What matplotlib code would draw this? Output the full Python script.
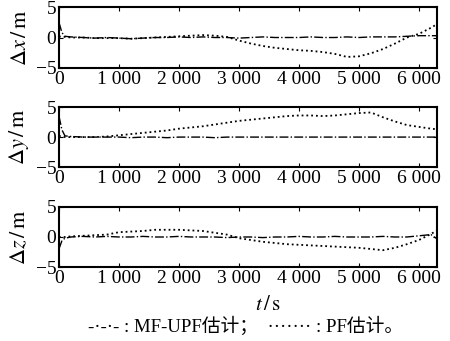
#!/usr/bin/env python
#
# Positiefouten dx, dy, dz van MF-UPF en PF schatting in functie van de tijd
#

import matplotlib
matplotlib.use('Agg')
import matplotlib.pyplot as plt
from matplotlib.ticker import FuncFormatter

################################################################################
# Data
################################################################################
t = [0, 50, 100, 200, 400, 600, 800, 1000, 1200, 1400, 1600, 1800, 2000, 2200,
     2400, 2600, 2800, 3000, 3200, 3400, 3600, 3800, 4000, 4200, 4400, 4600,
     4800, 5000, 5200, 5400, 5600, 5800, 6000, 6200, 6300]

dx_mf = [2.5, 0.8, 0.2, 0.1, 0.0, -0.1, 0.0, -0.1, -0.2, -0.1, 0.0, 0.0, 0.1,
         0.0, 0.1, 0.0, 0.0, -0.1, 0.0, 0.1, 0.0, 0.0, 0.0, 0.1, 0.0, 0.0, 0.1,
         0.0, 0.1, 0.1, 0.1, 0.2, 0.3, 0.3, 0.3]
dx_pf = [0.2, 0.1, 0.1, 0.0, 0.0, -0.1, -0.1, -0.1, -0.2, -0.1, 0.0, 0.1, 0.2,
         0.3, 0.4, 0.3, 0.1, -0.5, -1.0, -1.4, -1.7, -1.9, -2.1, -2.2, -2.4,
         -2.7, -3.2, -3.1, -2.6, -1.9, -1.0, 0.0, 0.6, 1.6, 2.2]

dy_mf = [3.5, 1.2, 0.2, 0.1, 0.0, 0.0, 0.0, 0.0, -0.1, 0.0, 0.0, -0.1, 0.0,
         0.0, 0.0, -0.1, 0.0, 0.0, 0.0, 0.0, 0.0, 0.0, 0.0, 0.0, 0.0, 0.0, 0.0,
         0.0, 0.0, 0.0, 0.0, 0.0, 0.0, 0.0, 0.0]
dy_pf = [0.2, 0.1, 0.0, 0.0, 0.0, 0.0, 0.1, 0.3, 0.5, 0.7, 0.9, 1.1, 1.4, 1.6,
         1.8, 2.1, 2.4, 2.7, 2.9, 3.1, 3.3, 3.5, 3.6, 3.6, 3.5, 3.6, 3.8, 4.0,
         4.1, 3.3, 2.6, 2.0, 1.7, 1.4, 1.3]

dz_mf = [-2.0, -0.6, -0.2, 0.0, 0.1, 0.0, 0.1, 0.0, 0.0, 0.1, 0.0, 0.0, 0.1,
         0.0, 0.0, 0.0, -0.1, 0.0, 0.0, -0.1, 0.0, 0.0, 0.1, 0.0, 0.0, 0.1, 0.0,
         0.0, 0.0, 0.1, 0.0, 0.0, 0.2, 0.4, -0.3]
dz_pf = [0.0, 0.0, 0.0, 0.1, 0.2, 0.3, 0.4, 0.8, 0.9, 1.0, 1.2, 1.2, 1.2, 1.1,
         1.0, 0.7, 0.4, -0.2, -0.5, -0.8, -1.0, -1.2, -1.3, -1.4, -1.5, -1.6,
         -1.7, -1.8, -2.0, -2.2, -1.8, -1.2, -0.5, 0.5, 1.1]

ylabels = [r'$\Delta x\,/\,\mathrm{m}$', r'$\Delta y\,/\,\mathrm{m}$',
           r'$\Delta z\,/\,\mathrm{m}$']
xticks = [0, 1000, 2000, 3000, 4000, 5000, 6000]
yticks = [-5, 0, 5]

################################################################################
# Plots
################################################################################
plt.rcParams['font.family'] = ['Liberation Serif', 'Noto Sans CJK SC']
plt.rcParams['mathtext.fontset'] = 'stix'
plt.rcParams['font.size'] = 14

fig = plt.figure(figsize=(4.5, 3.41), dpi=100)

def fmt(v, pos):
    v = int(round(v))
    if v >= 1000:
        return '{} {:03d}'.format(v // 1000, v % 1000)
    return str(v)

boxes = [(0.801, 0.979), (0.510, 0.686), (0.217, 0.393)]
series = [(dx_mf, dx_pf), (dy_mf, dy_pf), (dz_mf, dz_pf)]

for (b0, b1), (mf, pf), lab in zip(boxes, series, ylabels):
    ax = fig.add_axes([0.131, b0, 0.84, b1 - b0])
    ax.plot(t, mf, color='k', ls='-.', lw=1.0)
    ax.plot(t, pf, color='k', ls=':', lw=1.3)
    ax.set_xlim(0, 6300)
    ax.set_ylim(-5, 5)
    ax.set_xticks(xticks)
    ax.set_yticks(yticks)
    ax.xaxis.set_major_formatter(FuncFormatter(fmt))
    ax.tick_params(direction='in', top=True, right=True, length=3,
                   width=0.8, labelsize=14, pad=2)
    for s in ax.spines.values():
        s.set_linewidth(1.5)
    ax.set_ylabel(lab, fontsize=16)
    ax.yaxis.set_label_coords(-0.075, 0.5)

fig.text(0.595, 0.103, r'$t\,/\,\mathrm{s}$', ha='center', va='center',
         fontsize=15)
fig.text(0.545, 0.044, '-·-·- : MF-UPF估计；  ······· : PF估计。',
         ha='center', va='center', fontsize=13.5)

plt.savefig('out.png', dpi=100)
